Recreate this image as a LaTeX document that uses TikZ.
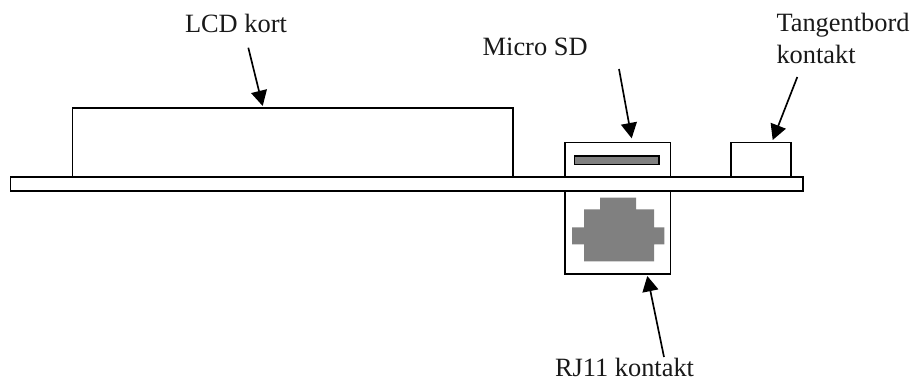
\documentclass[tikz,border=0pt]{standalone}
\usepackage{fontspec}
\setmainfont{Liberation Serif}
\usetikzlibrary{arrows.meta}
\tikzset{
  part/.style={draw=black,line width=1.3pt,fill=white,line join=miter},
  lbl/.style={anchor=base west,inner sep=0pt,outer sep=0pt,font=\fontsize{19.8pt}{23pt}\selectfont,text=black!90},
  pointer/.style={line width=1.25pt,-{Triangle[length=11.5pt,width=12pt]}},
}
\definecolor{fillgrey}{HTML}{808080}
\begin{document}
\begin{tikzpicture}[x=0.75pt,y=-0.75pt]
\useasboundingbox (0,0) rectangle (914,381);
% board and parts
\draw[part] (10.5,177) rectangle (803,191);
\draw[part] (72.5,108) rectangle (513,177);
\draw[part] (565,142.5) rectangle (670.5,177);
\draw[part,fill=fillgrey] (574.5,156) rectangle (659,164.5);
\draw[part] (565,190.7) rectangle (670.5,274.3);
\fill[fillgrey] (572,227.3) -- (584,227.3) -- (584,209.3) -- (600,209.3) -- (600,197.7) -- (636,197.7) -- (636,209.3) -- (654,209.3) -- (654,227.3) -- (664.3,227.3) -- (664.3,244.3) -- (654,244.3) -- (654,261.3) -- (584,261.3) -- (584,244.3) -- (572,244.3) -- cycle;
\draw[part] (730.7,142.5) rectangle (791.3,177);
% labels
\node[lbl] (lcdlabel) at (185,32.7) {LCD kort};
\node[lbl] (sdlabel) at (482.7,56) {Micro SD};
\node[lbl] (keylabel) at (776.5,32) {Tangentbord};
\node[lbl] (keylabelb) at (776.5,63.3) {kontakt};
\node[lbl] (rjlabel) at (555,376.5) {RJ11 kontakt};
% connectors
\coordinate (lcdtail) at (248.3,47.7);
\coordinate (lcdtip) at (262.7,106);
\coordinate (sdtail) at (619,69);
\coordinate (sdtip) at (631.7,138.3);
\coordinate (keytail) at (797.3,77);
\coordinate (keytip) at (772.7,140);
\coordinate (rjtail) at (664,357);
\coordinate (rjtip) at (647.3,276);
\draw[pointer] (lcdtail) -- (lcdtip);
\draw[pointer] (sdtail) -- (sdtip);
\draw[pointer] (keytail) -- (keytip);
\draw[pointer] (rjtail) -- (rjtip);
\end{tikzpicture}
\end{document}
